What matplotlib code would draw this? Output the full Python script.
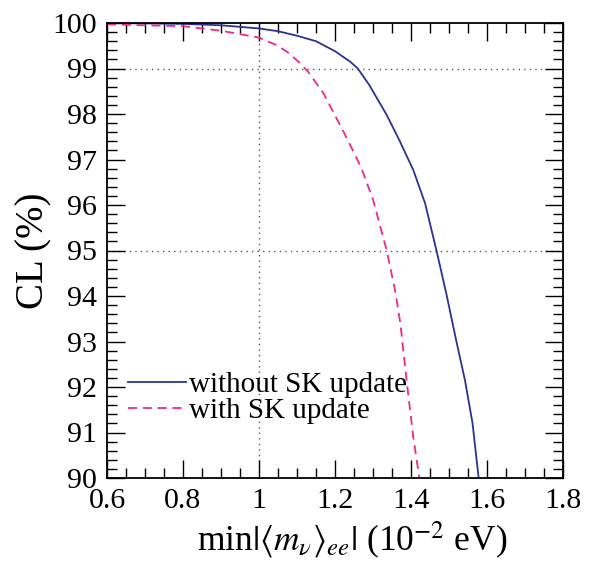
import numpy as np
import matplotlib.pyplot as plt
from matplotlib.ticker import MultipleLocator

plt.rcParams['font.family'] = ['Liberation Serif', 'DejaVu Serif']
plt.rcParams['mathtext.fontset'] = 'stix'

# without SK update
x_old = [0.6, 0.8, 0.9, 1.0, 1.05, 1.1, 1.15, 1.2, 1.24, 1.26, 1.29, 1.336,
         1.369, 1.406, 1.437, 1.467, 1.493, 1.519, 1.542, 1.562, 1.578]
cl_old = [100.0, 99.98, 99.95, 99.88, 99.82, 99.72, 99.6, 99.38, 99.15, 99.0,
          98.64, 97.98, 97.43, 96.77, 96.04, 95.0, 94.05, 93.02, 92.15, 91.2,
          90.0]

# with SK update
x_new = [0.6, 0.8, 0.9, 1.0, 1.05, 1.08, 1.11, 1.13, 1.17, 1.22, 1.25, 1.27,
         1.30, 1.336, 1.358, 1.372, 1.389, 1.406, 1.422]
cl_new = [99.97, 99.93, 99.83, 99.68, 99.5, 99.33, 99.1, 98.92, 98.45, 97.65,
          97.15, 96.8, 96.12, 95.0, 94.13, 93.4, 92.1, 90.9, 90.0]

fig = plt.figure(figsize=(5.9, 5.63), dpi=100)
ax = fig.add_axes([107/590, 1 - 478/563, 456/590, 455/563])

ax.plot(x_old, cl_old, color='#2e3192', lw=1.3, label='without SK update')
ax.plot(x_new, cl_new, color='#f0278c', lw=1.3, dashes=(5, 3.2),
        label='with SK update')

# dotted reference lines
for yv in [99, 95]:
    ax.axhline(yv, color='#555555', lw=1.0, ls=(0, (1, 3)), zorder=0)
ax.axvline(1.0, color='#555555', lw=1.0, ls=(0, (1, 3)), zorder=0)

ax.set_xlim(0.6, 1.8)
ax.set_ylim(90, 100)
ax.xaxis.set_major_locator(MultipleLocator(0.2))
ax.xaxis.set_minor_locator(MultipleLocator(0.05))
ax.yaxis.set_major_locator(MultipleLocator(1))
ax.yaxis.set_minor_locator(MultipleLocator(0.2))
ax.set_xticks([0.6, 0.8, 1.0, 1.2, 1.4, 1.6, 1.8])
ax.set_xticklabels(['0.6', '0.8', '1', '1.2', '1.4', '1.6', '1.8'])

ax.tick_params(which='both', direction='in', top=True, right=True,
               labelsize=21.5, width=1.0)
ax.tick_params(which='major', length=13, pad=7)
ax.tick_params(which='minor', length=7)
for s in ax.spines.values():
    s.set_linewidth(1.3)

ax.set_xlabel(r'min$|\langle m_\nu\rangle_{ee}|$ (10$^{-2}$ eV)', fontsize=25.5)
ax.xaxis.set_label_coords(0.537, -0.093)
ax.set_ylabel('CL (%)', fontsize=28)
ax.yaxis.set_label_coords(-0.12, 0.5)

ax.legend(loc='lower left', bbox_to_anchor=(0.046, 0.118), frameon=False,
          fontsize=21, handlelength=2.0, handletextpad=0.1, labelspacing=0.0,
          borderpad=0, borderaxespad=0)

fig.savefig('out.png', dpi=100)
